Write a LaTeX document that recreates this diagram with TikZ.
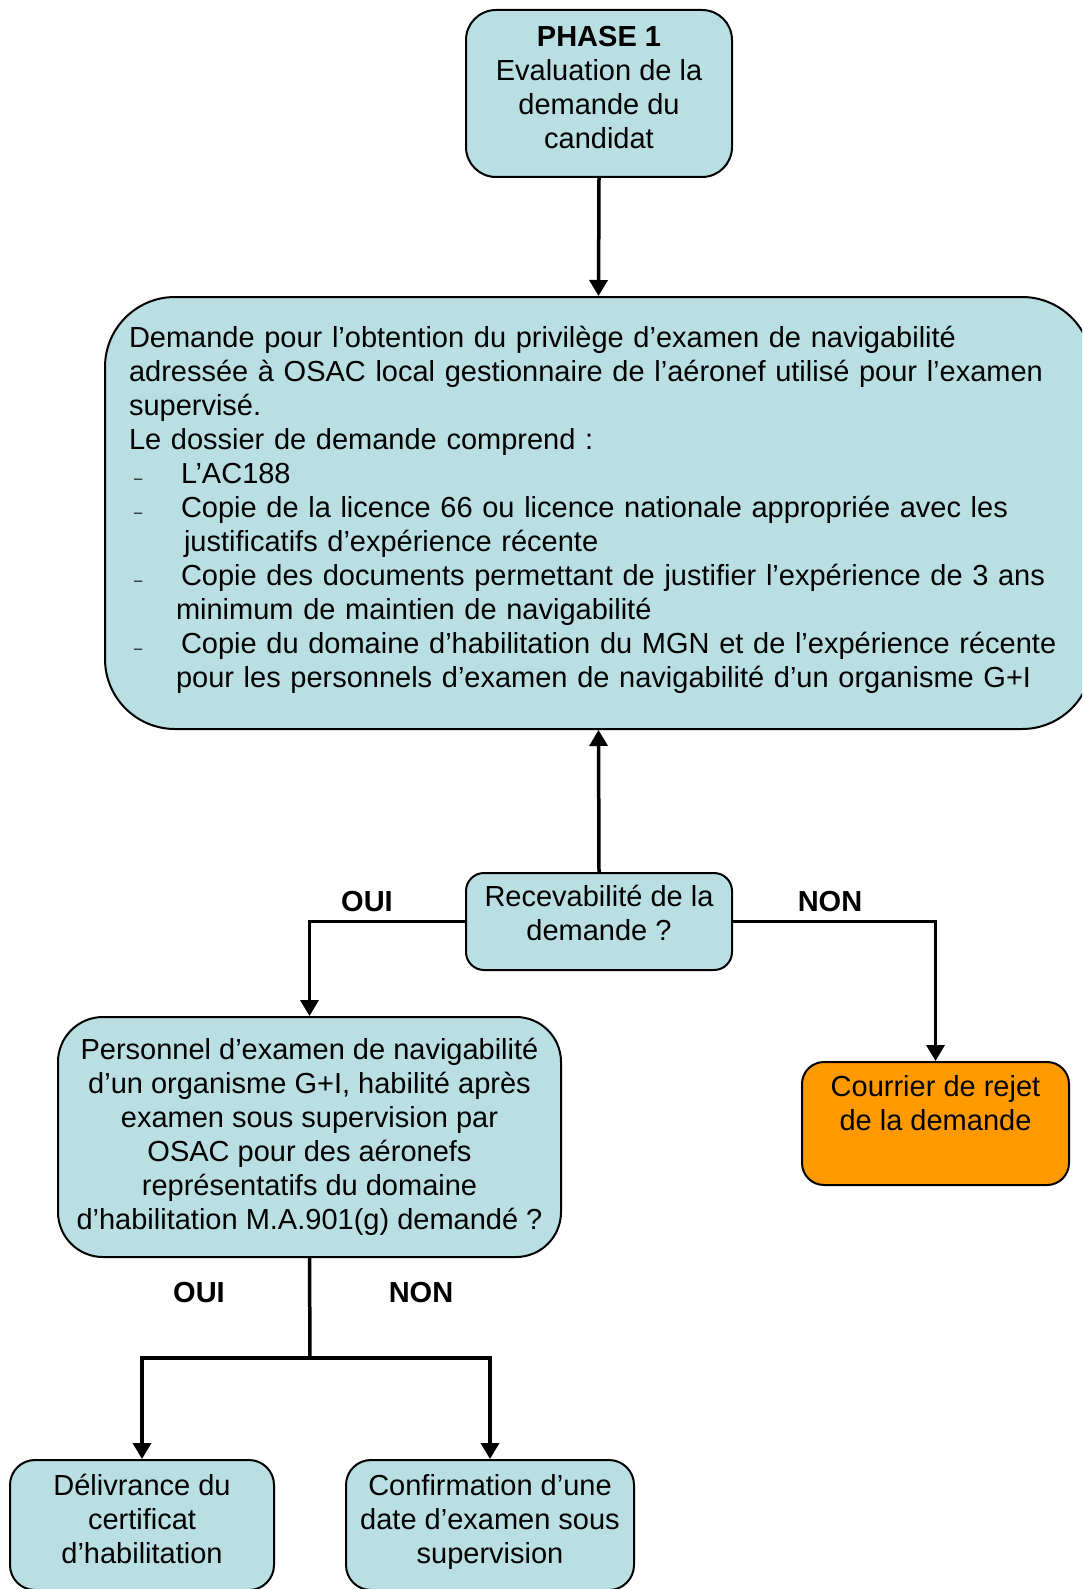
\documentclass[tikz,border=0pt]{standalone}
\usepackage{fontspec}
\setmainfont{Liberation Sans}
\usepackage{tikz}
\usetikzlibrary{arrows.meta}
\definecolor{bleuboite}{RGB}{185,223,227}
\definecolor{orangerejet}{RGB}{255,153,0}
\newcommand{\tiret}{\hspace*{5pt}\makebox[47pt][l]{\fontsize{15}{15}\selectfont --}}

\begin{document}
\begin{tikzpicture}[x=1pt,y=-1pt,
  boite/.style={draw,line width=2pt,fill=bleuboite,align=center,inner sep=0pt,
    font=\fontsize{29}{34}\selectfont},
  fleche/.style={line width=3.5pt,-{Triangle[length=16pt,width=18pt]}},
  lien/.style={line width=3.5pt},
  reponse/.style={font=\fontsize{29}{34}\selectfont\bfseries}]
\useasboundingbox (0,0) rectangle (1082,1589);
\clip (0,0) rectangle (1082,1589);
\node[boite,minimum width=266pt,minimum height=167pt,rounded corners=30pt] (phase) at (599,93.5)
  {\textbf{PHASE 1}\\Evaluation de la\\demande du\\candidat\\[-22pt]\mbox{}};
\node[boite,minimum width=987pt,minimum height=432pt,rounded corners=70pt,
  align=left,text width=939pt] (demande) at (598.5,513) {%
Demande pour l’obtention du privilège d’examen de navigabilité\\
adressée à OSAC local gestionnaire de l’aéronef utilisé pour l’examen\\
supervisé.\\
Le dossier de demande comprend :\\
\tiret L’AC188\\
\tiret Copie de la licence 66 ou licence nationale appropriée avec les\\
\hspace*{55pt}justificatifs d’expérience récente\\
\tiret Copie des documents permettant de justifier l’expérience de 3 ans\\
\hspace*{47pt}minimum de maintien de navigabilité\\
\tiret Copie du domaine d’habilitation du MGN et de l’expérience récente\\
\hspace*{47pt}pour les personnels d’examen de navigabilité d’un organisme G+I\\[-22pt]\mbox{}};
\node[boite,minimum width=266pt,minimum height=97pt,rounded corners=18pt] (receva) at (599,921.5)
  {Recevabilité de la\\demande ?\\[-16pt]\mbox{}};
\node[boite,minimum width=503pt,minimum height=240pt,rounded corners=45pt] (personnel) at (309.5,1137)
  {Personnel d’examen de navigabilité\\d’un organisme G+I, habilité après\\examen sous supervision par\\
   OSAC pour des aéronefs\\représentatifs du domaine\\d’habilitation M.A.901(g) demandé ?};
\node[boite,fill=orangerejet,minimum width=267pt,minimum height=123pt,rounded corners=22pt] (courrier) at (935.5,1123.5)
  {Courrier de rejet\\de la demande\\[8pt]\mbox{}};
\node[boite,minimum width=264pt,minimum height=130pt,rounded corners=25pt] (delivrance) at (142,1525)
  {Délivrance du\\certificat\\d’habilitation\\[-22pt]\mbox{}};
\node[boite,minimum width=288pt,minimum height=130pt,rounded corners=25pt] (confirmation) at (490,1525)
  {Confirmation d’une\\date d’examen sous\\supervision\\[-22pt]\mbox{}};
\node[reponse] (oui1) at (367,902) {OUI};
\node[reponse] (non1) at (830,902) {NON};
\node[reponse] (oui2) at (199,1293) {OUI};
\node[reponse] (non2) at (421,1293) {NON};
\coordinate (embranchement) at (310,1358);
\draw[fleche] (phase.south) -- (demande.north);
\draw[fleche] (receva.north) -- (demande.south);
\draw[fleche] (receva.west) -| (personnel.north);
\draw[fleche] (receva.east) -| (courrier.north);
\draw[lien] (personnel.south) -- (embranchement);
\draw[fleche] (embranchement) -| (delivrance.north);
\draw[fleche] (embranchement) -| (confirmation.north);
\end{tikzpicture}
\end{document}
